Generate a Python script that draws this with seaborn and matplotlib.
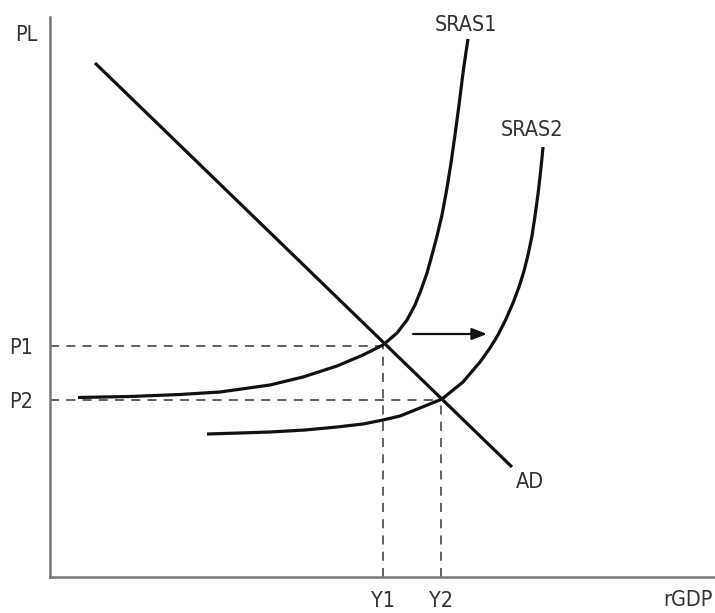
import matplotlib
matplotlib.use("Agg")
import matplotlib.pyplot as plt
import seaborn as sns
import pandas as pd

# ---- data ----
ad_x = [45, 462]
ad_y = [514, 110]

sras1_x = [28, 80, 130, 170, 220, 253, 287, 313, 333, 347, 357, 365, 371, 377, 382, 387,
           392, 397, 401, 405, 409, 413, 416, 418]
sras1_y = [179.5, 180.5, 182.5, 185, 192, 200, 211, 222, 232, 244, 257, 272, 287, 304, 322, 341,
           362, 389, 414, 442, 472, 504, 525, 538]

sras2_x = [157, 190, 220, 255, 287, 313, 333, 350, 370, 392, 413, 430, 440, 448, 456, 463,
           469, 474, 478, 482, 485, 488, 490, 492, 493]
sras2_y = [143, 144, 145, 147, 150, 153, 157, 161, 169, 178, 195, 215, 229, 242, 258, 274,
           290, 306, 322, 341, 361, 383, 400, 419, 430]

price_levels = [231, 177]
price_labels = ["P1", "P2"]
outputs = [333, 391]
output_labels = ["Y1", "Y2"]

arrow_start = (363, 243)
arrow_end = (437, 243)

sns.set_style("white")
plt.rcParams['font.family'] = ['DejaVu Sans']
plt.rcParams['font.stretch'] = 'condensed'

fig = plt.figure(figsize=(7.15, 6.13), dpi=100)
ax = fig.add_axes([50/715, 36/613, 665/715, 560/613])
ax.set_xlim(0, 665)
ax.set_ylim(0, 560)

txt_color = "#333333"
line_color = "#111111"
lw = 2.3

df_ad = pd.DataFrame({"x": ad_x, "y": ad_y})
df1 = pd.DataFrame({"x": sras1_x, "y": sras1_y})
df2 = pd.DataFrame({"x": sras2_x, "y": sras2_y})

for d in (df_ad, df1, df2):
    sns.lineplot(data=d, x="x", y="y", ax=ax, color=line_color, lw=lw, sort=False,
                 solid_joinstyle="round", solid_capstyle="butt")

# dashed guides
for p, q in zip(price_levels, outputs):
    ax.plot([0, q], [p, p], ls=(0, (5, 4)), color="#555555", lw=1.3, zorder=1)
    ax.plot([q, q], [0, p], ls=(0, (5, 4)), color="#555555", lw=1.3, zorder=1)

# shift arrow
ax.annotate("", xy=arrow_end, xytext=arrow_start,
            arrowprops=dict(arrowstyle="-|>,head_length=0.9,head_width=0.35",
                            color=line_color, lw=1.6, shrinkA=0, shrinkB=0))

# ticks as labels
ax.set_yticks(price_levels)
ax.set_yticklabels(price_labels)
ax.set_xticks(outputs)
ax.set_xticklabels(output_labels)
ax.tick_params(axis="both", length=0, labelsize=15.5, colors=txt_color)
ax.tick_params(axis="y", pad=12)
ax.tick_params(axis="x", pad=10)
ax.set_xlabel("")
ax.set_ylabel("")

for s in ["top", "right"]:
    ax.spines[s].set_visible(False)
for s in ["left", "bottom"]:
    ax.spines[s].set_color("#777777")
    ax.spines[s].set_linewidth(1.8)

# curve labels
kw = dict(fontsize=15.5, color=txt_color, ha="center", va="center", clip_on=False)
ax.text(-24, 542, "PL", **kw)
ax.text(638, -23, "rGDP", **kw)
ax.text(416, 552, "SRAS1", **kw)
ax.text(482, 447, "SRAS2", **kw)
ax.text(480, 95, "AD", **kw)

fig.savefig("out.png", dpi=100)
